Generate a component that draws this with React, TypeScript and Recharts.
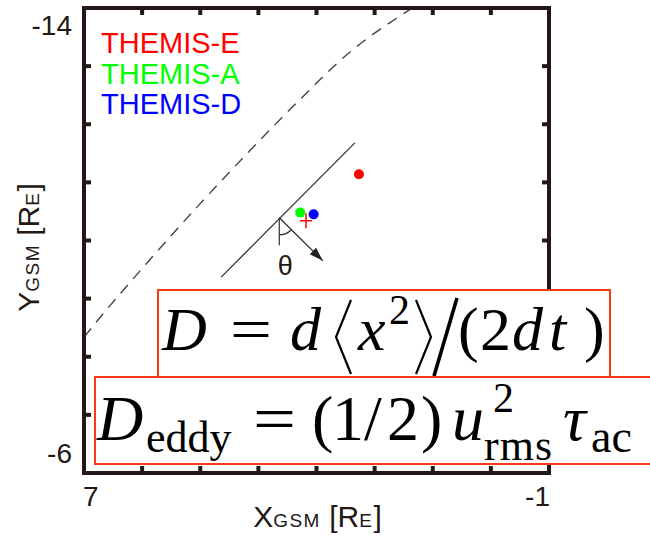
import React from 'react';
import { ComposedChart, Line, Scatter, XAxis, YAxis } from 'recharts';

// axes (X runs from +7 on the left to -1 on the right, Y from -14 at top to -6)
const xTicks = [7, 6, 5, 4, 3, 2, 1, 0, -1];
const yTicks = [-14, -13, -12, -11, -10, -9, -8, -7, -6];
const xLabelled = [7, -1];
const yLabelled = [-14, -6];

// model boundary, dashed
const boundaryX = [7.0, 6.72, 5.92, 5.06, 4.19, 3.33, 2.45, 1.35];
const boundaryY = [-8.34, -8.68, -9.61, -10.57, -11.5, -12.38, -13.22, -14.0];

// front, solid
const frontX = [4.64, 2.34];
const frontY = [-9.37, -11.68];

// short vertical at the foot of the normal
const refX = [3.64, 3.64];
const refY = [-10.39, -9.92];

// normal vector
const normalX = [3.64, 2.89];
const normalY = [-10.39, -9.65];

// spacecraft positions
const probeNames = ['THEMIS-E', 'THEMIS-A', 'THEMIS-D'];
const probeX = [2.27, 3.28, 3.05];
const probeY = [-11.14, -10.48, -10.45];

const crossX = [3.18];
const crossY = [-10.34];

const probeColors: Record<string, string> = {
  'THEMIS-E': '#ff0000',
  'THEMIS-A': '#00ff00',
  'THEMIS-D': '#0000ff',
};

const zip = (xs: number[], ys: number[]) => xs.map((x, i) => ({ x, y: ys[i] }));
const boundary = zip(boundaryX, boundaryY);
const front = zip(frontX, frontY);
const ref = zip(refX, refY);
const normal = zip(normalX, normalY);
const probes = probeNames.map((name, i) => ({ name, x: probeX[i], y: probeY[i] }));
const cross = zip(crossX, crossY);

const W = 650;
const H = 539;
// axes are 1px thick boxes, so the plot itself spans x 84..549, y 8..473
const margin = { top: 7, right: 100, bottom: 65, left: 83 };
const plotLeft = 84;
const plotBottom = 473;

const INK = '#231815';
const SANS = '"Liberation Sans", Arial, sans-serif';
const SERIF = '"Liberation Serif", "Times New Roman", serif';
const BOX = '#fa3a14';

const frameLine = { stroke: INK, strokeWidth: 4, strokeLinecap: 'square' as const };
const tickLine = { stroke: INK, strokeWidth: 4 };

const XTick = (props: any) => {
  const { x, payload } = props;
  if (!xLabelled.includes(payload.value)) return <g />;
  const first = payload.value === xLabelled[0];
  return (
    <text
      x={first ? x - 1 : x + 1}
      y={plotBottom + 33}
      textAnchor={first ? 'start' : 'end'}
      fontFamily={SANS}
      fontSize={28}
      fill={INK}
    >
      {payload.value}
    </text>
  );
};

const YTick = (props: any) => {
  const { y, payload } = props;
  if (!yLabelled.includes(payload.value)) return <g />;
  const top = payload.value === yLabelled[0];
  return (
    <text
      x={plotLeft - 12}
      y={top ? y + 27 : y - 10}
      textAnchor="end"
      fontFamily={SANS}
      fontSize={28}
      fill={INK}
    >
      {payload.value}
    </text>
  );
};

const NoTick = () => <g />;

// "X_GSM [R_E]" style title, small letters kept on the baseline
const TitleSpans = ({ axis }: { axis: string }) => (
  <>
    <tspan fontSize={30}>{axis}</tspan>
    <tspan fontSize={19} letterSpacing={1.5}>GSM</tspan>
    <tspan fontSize={30}> [R</tspan>
    <tspan fontSize={19} letterSpacing={1.5}>E</tspan>
    <tspan fontSize={30}>]</tspan>
  </>
);

const XTitle = (props: any) => {
  const vb = props.viewBox || { x: plotLeft, y: plotBottom, width: 465 };
  return (
    <text x={vb.x + vb.width / 2 + 1} y={vb.y + 54} textAnchor="middle" fontFamily={SANS} fill={INK}>
      <TitleSpans axis="X" />
    </text>
  );
};

const YTitle = (props: any) => {
  const vb = props.viewBox || { x: plotLeft - 1, y: 8, height: 465 };
  const cx = vb.x - 44;
  const cy = vb.y + vb.height / 2 + 7;
  return (
    <text
      x={cx}
      y={cy}
      transform={`rotate(-90, ${cx}, ${cy})`}
      textAnchor="middle"
      fontFamily={SANS}
      fill={INK}
    >
      <TitleSpans axis="Y" />
    </text>
  );
};

// arc + theta at the foot of the normal, arrow head at its tip
const NormalDot = (props: any) => {
  const { cx, cy, index } = props;
  const dx = -(normalX[1] - normalX[0]);
  const dy = normalY[1] - normalY[0];
  const a = Math.atan2(dy, dx);
  if (index === 0) {
    const r = 17;
    const ex = cx + r * Math.cos(a);
    const ey = cy + r * Math.sin(a);
    return (
      <g>
        <path d={`M ${cx} ${cy + r} A ${r} ${r} 0 0 0 ${ex} ${ey}`} fill="none" stroke="#333" strokeWidth={1.2} />
        <text x={cx + 6} y={cy + 57} textAnchor="middle" fontFamily={SANS} fontSize={27} fill={INK}>
          θ
        </text>
      </g>
    );
  }
  const len = 14;
  const half = 4.5;
  const bx = cx - len * Math.cos(a);
  const by = cy - len * Math.sin(a);
  const px = -Math.sin(a) * half;
  const py = Math.cos(a) * half;
  return <path d={`M ${cx} ${cy} L ${bx + px} ${by + py} L ${bx - px} ${by - py} Z`} fill="#222" />;
};

const ProbeShape = (props: any) => (
  <circle cx={props.cx} cy={props.cy} r={5} fill={probeColors[props.payload.name]} />
);

const CrossShape = (props: any) => (
  <g stroke="#ff0000" strokeWidth={1.5}>
    <line x1={props.cx - 6} y1={props.cy} x2={props.cx + 6} y2={props.cy} />
    <line x1={props.cx} y1={props.cy - 7.5} x2={props.cx} y2={props.cy + 7.5} />
  </g>
);

const Overlay = () => (
  <svg
    width={W}
    height={H}
    style={{ position: 'absolute', left: 0, top: 0, pointerEvents: 'none' }}
  >
    {probeNames.map((name, i) => (
      <text key={name} x={101} y={53 + i * 30.5} fontFamily={SANS} fontSize={29} fill={probeColors[name]}>
        {name}
      </text>
    ))}

    {/* D = d<x^2>/(2dt) */}
    <rect x={158} y={290} width={452} height={87} fill="#fff" stroke={BOX} strokeWidth={2} />
    <text fontFamily={SERIF} fill="#000" fontSize={62}>
      <tspan x={162} y={350} fontStyle="italic">D</tspan>
      <tspan x={230} y={350} textLength={42} lengthAdjust="spacingAndGlyphs">=</tspan>
      <tspan x={290} y={350} fontStyle="italic">d</tspan>
      <tspan x={358} y={350} fontStyle="italic">x</tspan>
      <tspan x={389} y={324} fontSize={42}>2</tspan>
      <tspan x={458} y={350}>(</tspan>
      <tspan x={480} y={350}>2</tspan>
      <tspan x={512} y={350} fontStyle="italic">d</tspan>
      <tspan x={549} y={350} fontStyle="italic">t</tspan>
      <tspan x={584} y={350}>)</tspan>
    </text>
    <g fill="none" stroke="#000">
      <path d="M 351 300 L 336 337 L 351 374" strokeWidth={2.2} />
      <path d="M 416 300 L 431 337 L 416 374" strokeWidth={2.2} />
      <path d="M 457 298 L 434 376" strokeWidth={3.6} />
    </g>

    {/* D_eddy = (1/2) u_rms^2 tau_ac */}
    <rect x={95} y={377} width={570} height={87} fill="#fff" stroke={BOX} strokeWidth={2} />
    <text fontFamily={SERIF} fill="#000" fontSize={64}>
      <tspan x={97} y={440} fontStyle="italic">D</tspan>
      <tspan x={146} y={452} fontSize={44}>eddy</tspan>
      <tspan x={253} y={440} textLength={43} lengthAdjust="spacingAndGlyphs">=</tspan>
      <tspan x={312} y={440}>(</tspan>
      <tspan x={332} y={440}>1</tspan>
      <tspan x={364} y={440}>/</tspan>
      <tspan x={387} y={440}>2</tspan>
      <tspan x={421} y={440}>)</tspan>
      <tspan x={452} y={440} fontStyle="italic">u</tspan>
      <tspan x={493} y={412} fontSize={42}>2</tspan>
      <tspan x={484} y={460} fontSize={44} letterSpacing={1}>rms</tspan>
      <tspan x={563} y={440} fontStyle="italic">τ</tspan>
      <tspan x={591} y={452} fontSize={46}>ac</tspan>
    </text>
  </svg>
);

export default function App() {
  return (
    <div style={{ position: 'absolute', left: 0, top: 0, width: W, height: H, background: '#fff' }}>
      <ComposedChart width={W} height={H} margin={margin}>
        <XAxis
          xAxisId="b"
          type="number"
          dataKey="x"
          domain={[-1, 7]}
          reversed
          allowDataOverflow
          ticks={xTicks}
          interval={0}
          height={1}
          axisLine={frameLine}
          tickLine={tickLine}
          tickSize={-7}
          tick={XTick}
          label={XTitle}
        />
        <XAxis
          xAxisId="t"
          orientation="top"
          type="number"
          dataKey="x"
          domain={[-1, 7]}
          reversed
          allowDataOverflow
          ticks={xTicks}
          interval={0}
          height={1}
          axisLine={frameLine}
          tickLine={tickLine}
          tickSize={-7}
          tick={NoTick}
        />
        <YAxis
          yAxisId="l"
          type="number"
          domain={[-14, -6]}
          reversed
          allowDataOverflow
          ticks={yTicks}
          interval={0}
          width={1}
          axisLine={frameLine}
          tickLine={tickLine}
          tickSize={-7}
          tick={YTick}
          label={YTitle}
        />
        <YAxis
          yAxisId="r"
          orientation="right"
          type="number"
          domain={[-14, -6]}
          reversed
          allowDataOverflow
          ticks={yTicks}
          interval={0}
          width={1}
          axisLine={frameLine}
          tickLine={tickLine}
          tickSize={-7}
          tick={NoTick}
        />

        <Line
          xAxisId="b"
          yAxisId="l"
          data={boundary}
          dataKey="y"
          type="monotone"
          stroke="#444"
          strokeWidth={1.4}
          strokeDasharray="11 8"
          dot={false}
          activeDot={false}
          isAnimationActive={false}
        />
        <Line
          xAxisId="b"
          yAxisId="l"
          data={front}
          dataKey="y"
          stroke="#333"
          strokeWidth={1.3}
          dot={false}
          activeDot={false}
          isAnimationActive={false}
        />
        <Line
          xAxisId="b"
          yAxisId="l"
          data={ref}
          dataKey="y"
          stroke="#333"
          strokeWidth={1.2}
          dot={false}
          activeDot={false}
          isAnimationActive={false}
        />
        <Line
          xAxisId="b"
          yAxisId="l"
          data={normal}
          dataKey="y"
          stroke="#333"
          strokeWidth={1.3}
          dot={NormalDot}
          activeDot={false}
          isAnimationActive={false}
        />
        <Scatter xAxisId="b" yAxisId="l" data={probes} dataKey="y" shape={ProbeShape} isAnimationActive={false} />
        <Scatter xAxisId="b" yAxisId="l" data={cross} dataKey="y" shape={CrossShape} isAnimationActive={false} />
      </ComposedChart>
      <Overlay />
    </div>
  );
}
